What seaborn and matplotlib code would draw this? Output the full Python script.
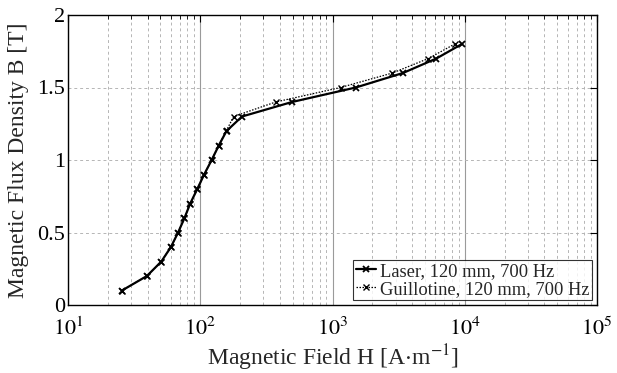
import numpy as np
import pandas as pd
import matplotlib
matplotlib.use("Agg")
import matplotlib.pyplot as plt
import seaborn as sns
from matplotlib.ticker import LogLocator, NullFormatter, FixedLocator

# Magnetisation curves, B-H
laser_H = [25.6, 39.5, 50.8, 60, 68, 76, 84, 95, 107, 122, 138, 158, 207, 494, 1500, 3410, 6100, 9530]
laser_B = [0.1, 0.2, 0.3, 0.4, 0.5, 0.6, 0.7, 0.8, 0.9, 1.0, 1.1, 1.2, 1.3, 1.4, 1.5, 1.6, 1.7, 1.8]
guil_H = [25.6, 39.5, 50.8, 60, 68, 76, 84, 95, 107, 122, 138, 157, 179, 372, 1150, 2840, 5310, 8400]
guil_B = [0.1, 0.2, 0.3, 0.4, 0.5, 0.6, 0.7, 0.8, 0.9, 1.0, 1.1, 1.2, 1.3, 1.4, 1.5, 1.6, 1.7, 1.8]
labels = ["Laser, 120 mm, 700 Hz", "Guillotine, 120 mm, 700 Hz"]

sns.set_theme(style="white")
plt.rcParams["font.family"] = ["Liberation Serif", "DejaVu Serif"]
plt.rcParams["mathtext.fontset"] = "stix"

fig = plt.figure(figsize=(6.17, 3.73), dpi=100)
ax = fig.add_axes([68 / 617, 1 - 305 / 373, (597 - 68) / 617, (305 - 15) / 373])

df_l = pd.DataFrame({"H": laser_H, "B": laser_B})
df_g = pd.DataFrame({"H": guil_H, "B": guil_B})
sns.lineplot(data=df_l, x="H", y="B", ax=ax, color="black", lw=1.6, marker="x",
             markersize=5, markeredgewidth=1.3, markeredgecolor="black",
             label=labels[0], sort=False)
sns.lineplot(data=df_g, x="H", y="B", ax=ax, color="black", lw=0.9, ls=(0, (1.2, 1.2)),
             marker="x", markersize=5, markeredgewidth=1.0, markeredgecolor="black",
             label=labels[1], sort=False)

ax.set_xscale("log")
ax.set_xlim(10, 1e5)
ax.set_ylim(0, 2)
ax.xaxis.set_major_locator(FixedLocator([1e1, 1e2, 1e3, 1e4, 1e5]))
ax.xaxis.set_minor_locator(LogLocator(base=10, subs=np.arange(2, 10), numticks=20))
ax.xaxis.set_minor_formatter(NullFormatter())
ax.set_xticklabels([r"$10^{1}$", r"$10^{2}$", r"$10^{3}$", r"$10^{4}$", r"$10^{5}$"])
ax.set_yticks([0, 0.5, 1, 1.5, 2])
ax.set_yticklabels(["0", "0.5", "1", "1.5", "2"])

ax.grid(True, which="major", axis="x", color="#9a9a9a", ls="-", lw=0.8)
ax.grid(True, which="minor", axis="x", color="#b5b5b5", ls=(0, (3, 3)), lw=0.7)
ax.grid(True, which="major", axis="y", color="#b5b5b5", ls=(0, (3, 3)), lw=0.7)
ax.set_axisbelow(True)

for s in ax.spines.values():
    s.set_color("black")
    s.set_linewidth(1.0)
ax.tick_params(which="both", direction="in", top=True, right=True, colors="black",
               labelsize=16)
ax.tick_params(axis="x", which="major", pad=9)
ax.tick_params(axis="y", which="major", pad=2)
ax.tick_params(which="major", length=5, width=0.8)
ax.tick_params(which="minor", length=3, width=0.6)

ax.set_xlabel(r"Magnetic Field H [A$\cdot$m$^{-1}$]", fontsize=17, labelpad=2)
ax.set_ylabel("Magnetic Flux Density B [T]", fontsize=17, labelpad=6)

leg = ax.legend(loc="lower right", fontsize=13.3, frameon=True, fancybox=False,
                borderpad=0.15, labelspacing=0.05, handlelength=1.1, handletextpad=0.2,
                borderaxespad=0.25)
leg.get_frame().set_edgecolor("black")
leg.get_frame().set_linewidth(0.8)

fig.savefig("out.png", dpi=100)
